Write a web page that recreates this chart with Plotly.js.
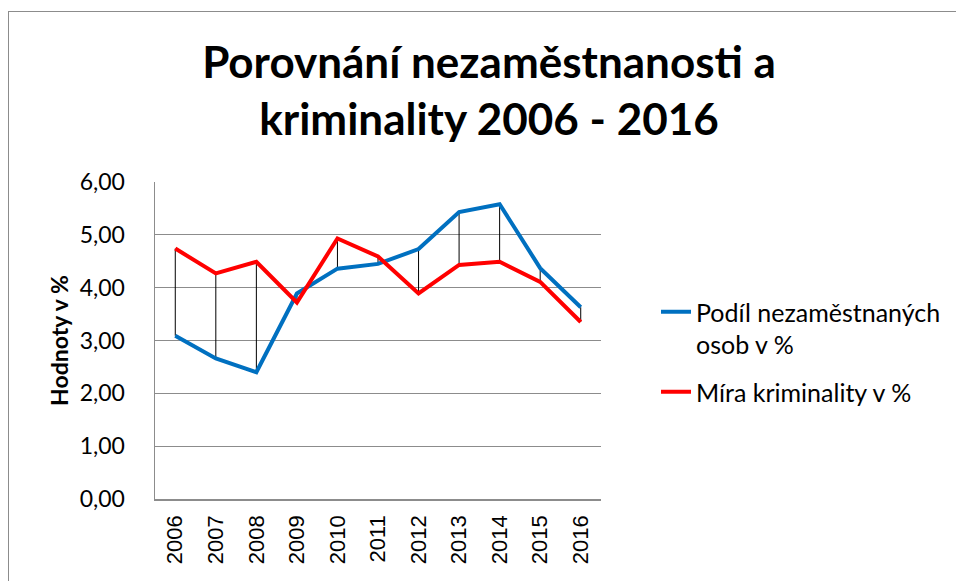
<!DOCTYPE html>
<html>
<head>
<meta charset="utf-8">
<script src="https://cdn.plot.ly/plotly-3.0.1.min.js"></script>
<style>
  html, body { margin: 0; padding: 0; background: #fff; overflow: hidden; }
  #chart { position: absolute; left: 0; top: 0; width: 956px; height: 581px; }
  #frame { position: absolute; left: 8px; top: 11px; width: 1000px; height: 700px;
           border-left: 1.5px solid #8c8c8c; border-top: 1.5px solid #8c8c8c; pointer-events: none; }
</style>
</head>
<body>
<div id="chart"></div>
<div id="frame"></div>
<script>
const years = ['2006','2007','2008','2009','2010','2011','2012','2013','2014','2015','2016'];
const unemployment = [3.09, 2.66, 2.40, 3.89, 4.36, 4.45, 4.73, 5.43, 5.58, 4.37, 3.63];
const crime = [4.74, 4.27, 4.49, 3.72, 4.93, 4.59, 3.89, 4.43, 4.49, 4.11, 3.35];
const seriesNames = ['Podíl nezaměstnaných<br>osob v %', 'Míra kriminality v %'];
const yTicks = [0, 1, 2, 3, 4, 5, 6];

const FONT = 'Lato, "Open Sans", sans-serif';

// high-low connector lines built from the two series
const hlX = [], hlY = [];
years.forEach((y, i) => { hlX.push(y, y, null); hlY.push(unemployment[i], crime[i], null); });

const traces = [
  { x: hlX, y: hlY, type: 'scatter', mode: 'lines', line: { color: '#000', width: 1 },
    showlegend: false, hoverinfo: 'skip' },
  { x: years, y: unemployment, type: 'scatter', mode: 'lines', name: seriesNames[0],
    line: { color: '#0070C0', width: 4 }, legendgroup: 'a' },
  { x: years, y: crime, type: 'scatter', mode: 'lines', name: seriesNames[1],
    line: { color: '#FF0000', width: 4 }, legendgroup: 'b' }
];

const layout = {
  width: 956, height: 581,
  margin: { l: 155, r: 355, t: 182, b: 82 },
  paper_bgcolor: '#fff', plot_bgcolor: '#fff',
  separators: ', ',
  font: { family: FONT, color: '#000' },
  title: {
    text: '<b>Porovnání nezaměstnanosti a<br>kriminality 2006 - 2016</b>',
    font: { family: FONT, size: 44, color: '#000' },
    x: 489 / 956, xref: 'container', xanchor: 'center',
    y: 1 - 78 / 581, yref: 'container', yanchor: 'top'
  },
  xaxis: {
    type: 'category', range: [-0.5, 10.5],
    showgrid: false, zeroline: false,
    showline: true, linecolor: '#8c8c8c', linewidth: 1.5,
    tickangle: -90, ticks: '',
    tickfont: { family: '"Liberation Sans", Arial, sans-serif', size: 22, color: '#000' },
    ticklabelstandoff: 6
  },
  yaxis: {
    range: [0, 6], tickvals: yTicks, tickformat: '.2f',
    showgrid: true, gridcolor: '#8c8c8c', gridwidth: 1,
    zeroline: false, showline: true, linecolor: '#8c8c8c', linewidth: 1.5,
    ticks: '', tickfont: { family: FONT, size: 23, color: '#000' },
    ticklabelstandoff: 24,
    title: { text: '<b>Hodnoty v %</b>', font: { family: FONT, size: 23, color: '#000' }, standoff: 4 }
  },
  legend: {
    x: 656 / 956, xanchor: 'left', y: 1 - 289 / 581, yanchor: 'top',
    xref: 'container', yref: 'container',
    font: { family: FONT, size: 25, color: '#000' },
    valign: 'top', tracegroupgap: 12, traceorder: 'grouped',
    bgcolor: 'rgba(0,0,0,0)'
  },
  showlegend: true
};

Plotly.newPlot('chart', traces, layout, { displayModeBar: false, staticPlot: true });
</script>
</body>
</html>
